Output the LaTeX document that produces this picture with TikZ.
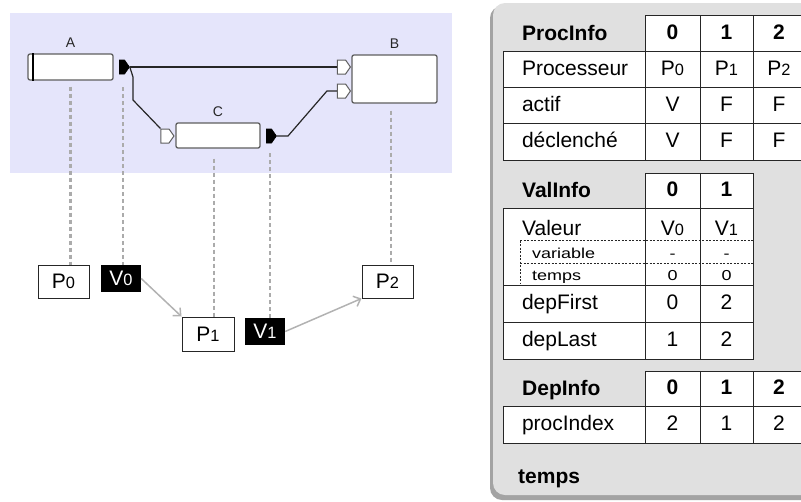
\documentclass[tikz,border=0pt]{standalone}
\usepackage{fontspec}
\setmainfont{Liberation Sans}
\usepackage{graphicx}
\usetikzlibrary{arrows.meta,shapes.symbols}

\definecolor{lavender}{RGB}{229,229,251}
\definecolor{panelfill}{RGB}{224,224,224}
\definecolor{panelshadow}{RGB}{163,163,163}
\definecolor{edgegray}{RGB}{95,95,95}

\newcommand{\ix}[1]{\scalebox{0.78}{#1}}
\newcommand{\sublab}[1]{\scalebox{1}[0.8]{\fontsize{18}{18}\selectfont #1}}

\tikzset{
  blk/.style={draw=edgegray, fill=white, rounded corners=2pt, line width=1.3pt, inner sep=0pt},
  blklabel/.style={font=\fontsize{14}{14}\selectfont, text=black!85, inner sep=0pt},
  outport/.style={signal, signal to=east, signal pointer angle=110, fill=black, draw=black, line width=0.6pt, inner sep=0pt, minimum width=10pt, minimum height=14pt},
  inport/.style={signal, signal to=east, signal pointer angle=110, fill=white, draw=edgegray, line width=1pt, inner sep=0pt, minimum width=13pt, minimum height=14pt},
  wire/.style={draw=black!85, line width=1.2pt},
  link/.style={draw=black!33, line width=2.5pt, dash pattern=on 4pt off 3pt},
  flow/.style={draw=black!30, line width=1.5pt, -{Straight Barb[length=6pt,width=11pt]}},
  proc/.style={draw=black!85, fill=white, line width=1pt, inner sep=0pt, minimum width=51pt, minimum height=33pt, font=\fontsize{21}{21}\selectfont},
  val/.style={fill=black, text=white, inner sep=0pt, minimum width=40pt, minimum height=27pt, font=\fontsize{21}{21}\selectfont},
  cell/.style={draw=black!85, fill=white, line width=0.9pt, inner sep=0pt, minimum height=37pt, font=\fontsize{21}{21}\selectfont, text height=15pt, text depth=4pt},
  labcell/.style={cell, text width=104pt, inner xsep=19pt, align=left},
  hdr/.style={font=\fontsize{21}{21}\selectfont\bfseries, inner sep=0pt},
  subline/.style={draw=black!85, line width=0.7pt, dash pattern=on 2pt off 1.5pt}
}

\begin{document}
\begin{tikzpicture}[x=1pt, y=-1pt]
    \useasboundingbox (0,0) rectangle (801,501);

    % Background
    \fill[lavender] (10,13) rectangle (452,173);
    \fill[panelshadow, rounded corners=12pt] (490,6) rectangle (820,500);
    \fill[panelfill, rounded corners=12pt] (493,3) rectangle (820,495);

    % Blocks
    \node[blk, minimum width=85pt, minimum height=26pt] (A) at (70.5,67) {};
    \node[blk, minimum width=85pt, minimum height=48pt] (B) at (394.5,79) {};
    \node[blk, minimum width=84pt, minimum height=25pt] (C) at (218,135.5) {};
    \node[blklabel, above=6pt] (Alab) at (A.north) {A};
    \node[blklabel, above=6pt] (Blab) at (B.north) {B};
    \node[blklabel, above=6pt] (Clab) at (C.north) {C};
    \draw[line width=2pt] ([xshift=6pt]A.north west) -- ([xshift=6pt]A.south west);

    % Ports
    \node[outport] (Aout) at (122,67) {};
    \node[inport] (Bin1) at (341.5,67) {};
    \node[inport] (Bin2) at (341.5,91) {};
    \node[inport] (Cin) at (165,136) {};
    \node[outport] (Cout) at (269,136) {};

    % Wires
    \draw[wire] (Aout.east) -- (Bin1.west);
    \draw[wire] (Aout.east) -- (133,77) -- (133,100) -- (Cin.north west);
    \draw[wire] (Cout.east) -- (288,136) -- ([xshift=-10pt]Bin2.west) -- (Bin2.west);

    % Processors and values
    \node[proc] (P0) at (63.5,281.5) {P\ix{0}};
    \node[val] (V0) at (121,278.5) {V\ix{0}};
    \node[proc, minimum width=52pt, minimum height=34pt] (P1) at (208,334) {P\ix{1}};
    \node[val] (V1) at (265,331.5) {V\ix{1}};
    \node[proc] (P2) at (387.5,281.5) {P\ix{2}};

    % Dashed links
    \draw[link] ([yshift=-6pt]A.south) -- (A.south |- P0.north);
    \draw[link] ([xshift=1pt,yshift=-13pt]Aout.south) -- ([xshift=1pt]Aout.south |- V0.north);
    \draw[link] ([xshift=-4pt,yshift=-10pt]C.south) -- ([xshift=-4pt]C.south |- P1.north);
    \draw[link] ([xshift=1pt,yshift=-10pt]Cout.south) -- ([xshift=1pt]Cout.south |- V1.north);
    \draw[link] ([xshift=-3.5pt,yshift=-7pt]B.south) -- ([xshift=-3.5pt]B.south |- P2.north);

    % Arrows
    \draw[flow] (V0.east) -- (P1.north west);
    \draw[flow] (V1.east) -- (P2.south west);

    % ProcInfo
    \node[hdr, anchor=base west] (piname) at (522,40) {ProcInfo};
    \node[cell, minimum width=55pt] (pi0) at (672.5,33.5) {\bfseries 0};
    \node[cell, minimum width=53pt] (pi1) at (726.5,33.5) {\bfseries 1};
    \node[cell, minimum width=52pt] (pi2) at (779,33.5) {\bfseries 2};
    \foreach \lab/\ca/\cb/\cc [count=\i from 0] in {Processeur/P\ix{0}/P\ix{1}/P\ix{2}, actif/V/F/F, déclenché/V/F/F} {
        \node[labcell] (pi-l\i) at (574,70+36*\i) {\lab};
        \node[cell, minimum width=55pt] (pi-a\i) at (672.5,70+36*\i) {\ca};
        \node[cell, minimum width=53pt] (pi-b\i) at (726.5,70+36*\i) {\cb};
        \node[cell, minimum width=52pt] (pi-c\i) at (779,70+36*\i) {\cc};
    }

    % ValInfo
    \node[hdr, anchor=base west] (viname) at (522,197) {ValInfo};
    \node[cell, minimum width=55pt, minimum height=35pt] (vi0) at (672.5,190.5) {\bfseries 0};
    \node[cell, minimum width=53pt, minimum height=35pt] (vi1) at (726.5,190.5) {\bfseries 1};
    \node[cell, minimum width=142pt, minimum height=77pt] (vi-l0) at (574,246.5) {};
    \node[cell, minimum width=55pt, minimum height=77pt] (vi-a0) at (672.5,246.5) {};
    \node[cell, minimum width=53pt, minimum height=77pt] (vi-b0) at (726.5,246.5) {};
    \draw[subline] (520,240.5) -- (753,240.5);
    \draw[subline] (520,263) -- (753,263);
    \draw[subline] (520,240.5) -- (520,283);
    \node[font=\fontsize{21}{21}\selectfont, inner sep=0pt, anchor=base west] (valeur) at (522,235) {Valeur};
    \node[font=\fontsize{21}{21}\selectfont, inner sep=0pt, anchor=base] (vv0) at (672.5,235) {V\ix{0}};
    \node[font=\fontsize{21}{21}\selectfont, inner sep=0pt, anchor=base] (vv1) at (726.5,235) {V\ix{1}};
    \node[inner sep=0pt, anchor=base west] (variable) at (532,258) {\sublab{variable}};
    \node[inner sep=0pt, anchor=base] (var0) at (672.5,258) {\sublab{-}};
    \node[inner sep=0pt, anchor=base] (var1) at (726.5,258) {\sublab{-}};
    \node[inner sep=0pt, anchor=base west] (tps) at (532,280) {\sublab{temps}};
    \node[inner sep=0pt, anchor=base] (tps0) at (672.5,280) {\sublab{0}};
    \node[inner sep=0pt, anchor=base] (tps1) at (726.5,280) {\sublab{0}};
    \foreach \lab/\ca/\cb [count=\i from 1] in {depFirst/0/2, depLast/1/2} {
        \node[labcell] (vi-l\i) at (574,266.5+37*\i) {\lab};
        \node[cell, minimum width=55pt] (vi-a\i) at (672.5,266.5+37*\i) {\ca};
        \node[cell, minimum width=53pt] (vi-b\i) at (726.5,266.5+37*\i) {\cb};
    }

    % DepInfo
    \node[hdr, anchor=base west] (diname) at (522,395) {DepInfo};
    \node[cell, minimum width=55pt, minimum height=35pt] (di0) at (672.5,388.5) {\bfseries 0};
    \node[cell, minimum width=53pt, minimum height=35pt] (di1) at (726.5,388.5) {\bfseries 1};
    \node[cell, minimum width=52pt, minimum height=35pt] (di2) at (779,388.5) {\bfseries 2};
    \node[labcell] (di-l) at (574,424.5) {procIndex};
    \node[cell, minimum width=55pt] (di-a) at (672.5,424.5) {2};
    \node[cell, minimum width=53pt] (di-b) at (726.5,424.5) {1};
    \node[cell, minimum width=52pt] (di-c) at (779,424.5) {2};

    % Time
    \node[hdr, anchor=base west] (temps) at (518,483) {temps};
\end{tikzpicture}
\end{document}
